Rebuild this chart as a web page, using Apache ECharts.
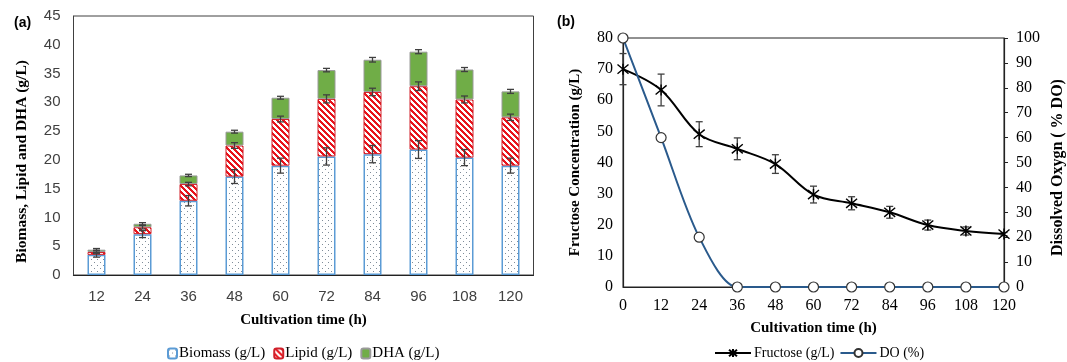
<!DOCTYPE html>
<html>
<head>
<meta charset="utf-8">
<script src="https://cdn.jsdelivr.net/npm/echarts@6/dist/echarts.min.js"></script>
<style>
  html, body { margin: 0; padding: 0; background: #fff; }
  #chart { width: 1067px; height: 362px; }
</style>
</head>
<body>
<div id="chart"></div>
<script>
// (a) stacked bars
const hours = ["12", "24", "36", "48", "60", "72", "84", "96", "108", "120"]
const biomass = [3.5, 7.1, 12.9, 17.1, 19.0, 20.6, 21.0, 21.8, 20.4, 19.0]
const lipid = [0.5, 1.2, 2.9, 5.4, 8.1, 10.0, 10.8, 11.0, 10.1, 8.4]
const dha = [0.4, 0.6, 1.5, 2.4, 3.7, 5.0, 5.6, 6.0, 5.2, 4.5]
const biomassErr = [0.4, 0.6, 0.9, 1.2, 1.3, 1.5, 1.5, 1.55, 1.4, 1.3]
const lipidErr = [0.3, 0.3, 0.3, 0.5, 0.5, 0.7, 0.65, 0.75, 0.6, 0.55]
const dhaErr = [0.2, 0.2, 0.2, 0.25, 0.25, 0.3, 0.4, 0.35, 0.35, 0.35]

// (b) fructose and dissolved oxygen
const time = [0, 12, 24, 36, 48, 60, 72, 84, 96, 108, 120]
const fructose = [70, 63.3, 49.1, 44.4, 39.5, 29.7, 26.9, 24.0, 19.9, 18.0, 17.0]
const fructoseErr = [5, 5.1, 4, 3.5, 3, 2.7, 2.1, 1.9, 1.6, 1.3, 0.5]
const dissolvedO2 = [100, 60, 20, 0, 0, 0, 0, 0, 0, 0, 0]

const serif = "Liberation Serif"
const sans = "Liberation Sans"

// fill patterns
function makeDots() {
  const c = document.createElement("canvas")
  c.width = 6; c.height = 6
  const g = c.getContext("2d")
  g.fillStyle = "#fff"; g.fillRect(0, 0, 6, 6)
  g.fillStyle = "#7f8c99"
  g.fillRect(1, 1, 1, 1)
  g.fillRect(4, 4, 1, 1)
  return c
}
function makeStripes() {
  const n = 6
  const c = document.createElement("canvas")
  c.width = n; c.height = n
  const g = c.getContext("2d")
  g.fillStyle = "#fff"; g.fillRect(0, 0, n, n)
  g.fillStyle = "#e8141c"
  for (let x = 0; x < n; x++) {
    for (let y = 0; y < n; y++) {
      if (((x - y + 60) % n) < 3) g.fillRect(x, y, 1, 1)
    }
  }
  return c
}

const chart = echarts.init(document.getElementById("chart"))

function errRender(params, api) {
  const x = api.value(0), y = api.value(1), e = api.value(2)
  const hi = api.coord([x, y + e])
  const lo = api.coord([x, y - e])
  const w = 3.5
  const st = { stroke: "#404040", lineWidth: 1.3 }
  return {
    type: "group",
    children: [
      { type: "line", shape: { x1: hi[0], y1: hi[1], x2: lo[0], y2: lo[1] }, style: st },
      { type: "line", shape: { x1: hi[0] - w, y1: hi[1], x2: hi[0] + w, y2: hi[1] }, style: st },
      { type: "line", shape: { x1: lo[0] - w, y1: lo[1], x2: lo[0] + w, y2: lo[1] }, style: st },
    ],
  }
}

const barErrData = []
hours.forEach((h, i) => {
  barErrData.push([i, biomass[i], biomassErr[i]])
  barErrData.push([i, biomass[i] + lipid[i], lipidErr[i]])
  barErrData.push([i, biomass[i] + lipid[i] + dha[i], dhaErr[i]])
})
const fructoseErrData = time.map((t, i) => [t, fructose[i], fructoseErr[i]])

const option = {
  animation: false,
  graphic: [
    { type: "text", left: 14, top: 16, style: { text: "(a)", font: "bold 14px " + sans, fill: "#000" } },
    { type: "text", left: 557, top: 15, style: { text: "(b)", font: "bold 14px " + sans, fill: "#000" } },
  ],
  legend: [
    {
      data: ["Biomass (g/L)", "Lipid (g/L)", "DHA (g/L)"],
      left: 162, top: 341,
      itemWidth: 9, itemHeight: 10, itemGap: 8,
      textStyle: { fontFamily: serif, fontSize: 15, color: "#000", padding: [0, 0, 0, -3] },
    },
    {
      data: ["Fructose (g/L)", "DO (%)"],
      left: 709, top: 341,
      itemWidth: 36, itemHeight: 10, itemGap: 5,
      textStyle: { fontFamily: serif, fontSize: 14, color: "#000", padding: [0, 0, 0, -2] },
    },
  ],
  grid: [
    { left: 73.5, top: 16, width: 460, height: 259, show: true, borderColor: "#404040", borderWidth: 1 },
    { left: 623, top: 38, width: 383, height: 249, show: true, borderColor: "#222", borderWidth: 1 },
  ],
  xAxis: [
    {
      type: "category", gridIndex: 0, data: hours,
      axisTick: { show: false },
      axisLine: { lineStyle: { color: "#222", width: 1.2 } },
      axisLabel: { fontFamily: sans, fontSize: 15, color: "#404040", margin: 14 },
      name: "Cultivation time (h)", nameLocation: "middle", nameGap: 38,
      nameTextStyle: { fontFamily: serif, fontSize: 15, fontWeight: "bold", color: "#000" },
    },
    {
      type: "value", gridIndex: 1, min: 0, max: 120, interval: 12,
      splitLine: { show: false },
      axisTick: { show: false },
      axisLine: { lineStyle: { color: "#222", width: 1.2 } },
      axisLabel: { fontFamily: serif, fontSize: 16, color: "#000", margin: 11 },
      name: "Cultivation time (h)", nameLocation: "middle", nameGap: 34,
      nameTextStyle: { fontFamily: serif, fontSize: 15, fontWeight: "bold", color: "#000" },
    },
  ],
  yAxis: [
    {
      type: "value", gridIndex: 0, min: 0, max: 45, interval: 5,
      splitLine: { show: false },
      axisTick: { show: false },
      axisLine: { show: true, lineStyle: { color: "#404040" } },
      axisLabel: { fontFamily: sans, fontSize: 15, color: "#404040", margin: 13 },
      name: "Biomass, Lipid and DHA (g/L)", nameLocation: "middle", nameGap: 44, nameRotate: 90,
      nameTextStyle: { fontFamily: serif, fontSize: 15.5, fontWeight: "bold", color: "#000", padding: [0, 32, 0, 0] },
    },
    {
      type: "value", gridIndex: 1, min: 0, max: 80, interval: 10,
      splitLine: { show: false },
      axisTick: { show: false },
      axisLine: { show: true, lineStyle: { color: "#222", width: 1.2 } },
      axisLabel: { fontFamily: serif, fontSize: 16, color: "#000", margin: 10 },
      name: "Fructose Concentration (g/L)", nameLocation: "middle", nameGap: 40, nameRotate: 90,
      nameTextStyle: { fontFamily: serif, fontSize: 15, fontWeight: "bold", color: "#000" },
    },
    {
      type: "value", gridIndex: 1, position: "right", min: 0, max: 100, interval: 10,
      splitLine: { show: false },
      axisTick: { show: true, length: 4, lineStyle: { color: "#222" } },
      axisLine: { show: true, lineStyle: { color: "#222", width: 1.2 } },
      axisLabel: { fontFamily: serif, fontSize: 16, color: "#000", margin: 12 },
      name: "Dissolved Oxygn ( % DO)", nameLocation: "middle", nameGap: 46, nameRotate: 90,
      nameTextStyle: { fontFamily: serif, fontSize: 16, fontWeight: "bold", color: "#000", padding: [0, 10, 0, 0] },
    },
  ],
  series: [
    {
      name: "Biomass (g/L)", type: "bar", stack: "total", xAxisIndex: 0, yAxisIndex: 0,
      data: biomass, barWidth: 18,
      itemStyle: { color: { image: makeDots(), repeat: "repeat" }, borderColor: "#5b9bd5", borderWidth: 1.5 },
    },
    {
      name: "Lipid (g/L)", type: "bar", stack: "total", xAxisIndex: 0, yAxisIndex: 0,
      data: lipid, barWidth: 18,
      itemStyle: { color: { image: makeStripes(), repeat: "repeat" }, borderColor: "#d0202a", borderWidth: 1 },
    },
    {
      name: "DHA (g/L)", type: "bar", stack: "total", xAxisIndex: 0, yAxisIndex: 0,
      data: dha, barWidth: 18,
      itemStyle: { color: "#70ad47", borderColor: "#9a9a9a", borderWidth: 1 },
    },
    {
      type: "custom", xAxisIndex: 0, yAxisIndex: 0, z: 5,
      data: barErrData, encode: { x: 0, y: 1 },
      renderItem: errRender,
    },
    {
      type: "custom", xAxisIndex: 1, yAxisIndex: 1, z: 4,
      data: fructoseErrData, encode: { x: 0, y: 1 },
      renderItem: errRender,
    },
    {
      name: "Fructose (g/L)", type: "line", xAxisIndex: 1, yAxisIndex: 1,
      data: time.map((t, i) => [t, fructose[i]]),
      smooth: 0.35,
      symbol: "path://M0,0L10,10M10,0L0,10M5,-1L5,11", symbolSize: 11,
      lineStyle: { color: "#000", width: 2 },
      itemStyle: { color: "#000", borderColor: "#000", borderWidth: 1.4 },
      z: 6,
    },
    {
      name: "DO (%)", type: "line", xAxisIndex: 1, yAxisIndex: 2,
      data: time.map((t, i) => [t, dissolvedO2[i]]),
      smooth: 0.3,
      symbol: "circle", symbolSize: 10,
      lineStyle: { color: "#2a5a8c", width: 2 },
      itemStyle: { color: "#fff", borderColor: "#333", borderWidth: 1.2 },
      z: 7,
    },
  ],
}

chart.setOption(option)
</script>
</body>
</html>
